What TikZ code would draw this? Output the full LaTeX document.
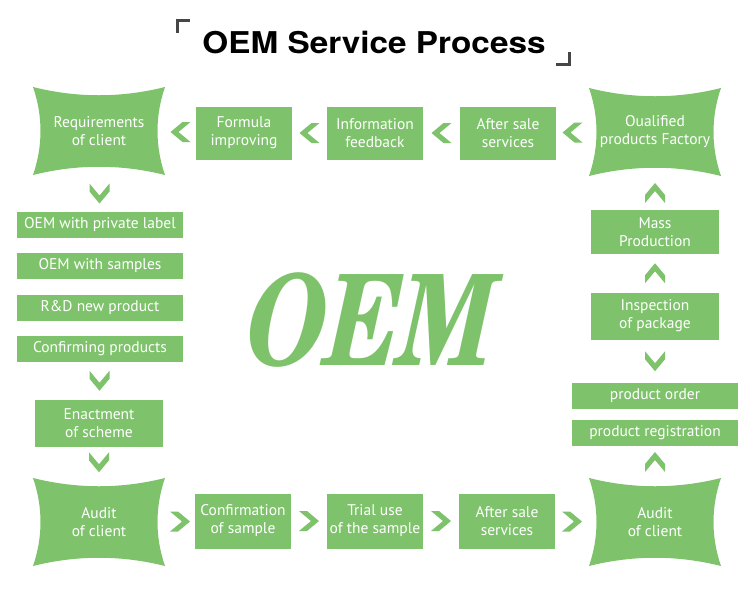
\documentclass[tikz,border=0pt]{standalone}
\usepackage{fontspec}
\setmainfont{PT Sans}
\newfontfamily\titlefont{texgyreheros-bold.otf}
\newfontfamily\bigfont{texgyreschola-bold.otf}
\usetikzlibrary{calc}
\definecolor{oemgreen}{RGB}{126,195,107}
\definecolor{markgray}{RGB}{70,70,70}
\tikzset{
  stepbox/.style={fill=oemgreen,text=white,align=center,inner sep=0pt,font=\fontsize{15.5}{18}\selectfont},
  topbox/.style={stepbox,minimum width=96,minimum height=53},
  widebox/.style={stepbox,minimum width=166,minimum height=26},
  midbox/.style={stepbox,minimum width=128,minimum height=47},
  cushtext/.style={text=white,align=center,inner sep=0pt,minimum width=132,minimum height=88,font=\fontsize{15.5}{18}\selectfont},
  chev/.pic={\fill[oemgreen] (-10,-10)--(-2,-10)--(10,0)--(-2,10)--(-10,10)--(2,0)--cycle;}
}
\newcommand{\cushion}[4]{%
  \fill[oemgreen] (#2-66,#3-44) .. controls +(44,11) and +(-44,11) .. (#2+66,#3-44)
    .. controls +(-10,29) and +(-10,-29) .. (#2+66,#3+44)
    .. controls +(-44,-11) and +(44,-11) .. (#2-66,#3+44)
    .. controls +(10,-29) and +(10,29) .. cycle;
  \node[cushtext] (#1) at (#2,#3) {#4};}
\begin{document}
\begin{tikzpicture}[x=1pt,y=-1pt]
\useasboundingbox (0,0) rectangle (750,606);
\node[font=\titlefont\fontsize{30}{30}\selectfont,xscale=1.11,transform shape] (title) at (374,43) {OEM Service Process};
\draw[markgray,line width=3] (177.5,33)--(177.5,20.5)--(190,20.5);
\draw[markgray,line width=3] (556,64.5)--(569.5,64.5)--(569.5,52);
\node[oemgreen,font=\bigfont\fontsize{126}{126}\selectfont,xslant=.22,xscale=.76,transform shape] (oem) at (372,320) {OEM};
\cushion{req}{99}{131}{Requirements\\of client}
\cushion{qual}{655}{132}{Oualified\\products Factory}
\cushion{audL}{99}{522}{Audit\\of client}
\cushion{audR}{655}{522}{Audit\\of client}
\node[topbox] (formula) at (244,133) {Formula\\improving};
\node[topbox] (info) at (375,133) {Information\\feedback};
\node[topbox] (afterT) at (508,133) {After sale\\services};
\node[widebox] (priv) at (100,225) {OEM with private label};
\node[widebox] (samp) at (100,266) {OEM with samples};
\node[widebox] (rnd) at (100,308) {R\&D new product};
\node[widebox] (conf) at (100,349) {Confirming products};
\node[midbox] (enact) at (99,423) {Enactment\\of scheme};
\node[topbox,minimum height=55] (confs) at (243,521) {Confirmation\\of sample};
\node[topbox,minimum height=55] (trial) at (375,521) {Trial use\\of the sample};
\node[topbox,minimum height=55] (afterB) at (507,521) {After sale\\services};
\node[midbox,minimum height=44] (mass) at (655,232) {Mass\\Production};
\node[midbox] (insp) at (655,316) {Inspection\\of package};
\node[widebox] (order) at (655,396) {product order};
\node[widebox] (reg) at (655,433) {product registration};
\pic[rotate=180] at ($(req.east)!.5!(formula.west)$) {chev};
\pic[rotate=180] at ($(formula.east)!.5!(info.west)$) {chev};
\pic[rotate=180] at ($(info.east)!.5!(afterT.west)$) {chev};
\pic[rotate=180] at ($(afterT.east)!.5!(qual.west)$) {chev};
\pic[rotate=-90] at ($(req.south)!.5!(priv.north)$) {chev};
\pic[rotate=-90] at ($(conf.south)!.5!(enact.north)$) {chev};
\pic[rotate=-90] at ($(enact.south)!.5!(audL.north)$) {chev};
\pic at ($(audL.east)!.5!(confs.west)$) {chev};
\pic at ($(confs.east)!.5!(trial.west)$) {chev};
\pic at ($(trial.east)!.5!(afterB.west)$) {chev};
\pic at ($(afterB.east)!.5!(audR.west)$) {chev};
\pic[rotate=90] at ($(audR.north)!.5!(reg.south)$) {chev};
\pic[rotate=-90] at ($(order.north)!.5!(insp.south)$) {chev};
\pic[rotate=90] at ($(insp.north)!.5!(mass.south)$) {chev};
\pic[rotate=90] at ($(mass.north)!.5!(qual.south)$) {chev};
\end{tikzpicture}
\end{document}
